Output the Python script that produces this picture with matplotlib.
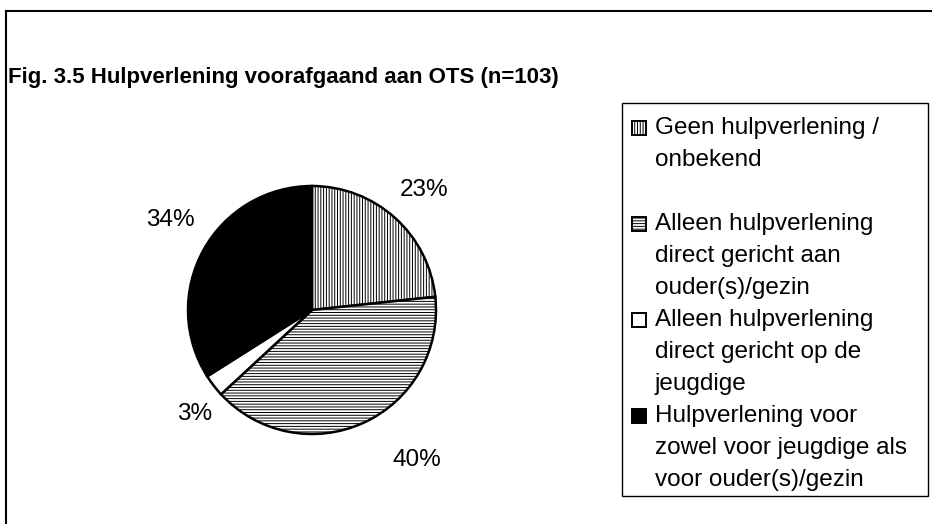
import matplotlib.pyplot as plt
from matplotlib.patches import Rectangle
from matplotlib.lines import Line2D

# ------------------------------------------------------------
# data (n=103)
categories = ["Geen hulpverlening /\nonbekend\n",
              "Alleen hulpverlening\ndirect gericht aan\nouder(s)/gezin",
              "Alleen hulpverlening\ndirect gericht op de\njeugdige",
              "Hulpverlening voor\nzowel voor jeugdige als\nvoor ouder(s)/gezin"]
counts = [24, 41, 3, 35]
title = "Fig. 3.5 Hulpverlening voorafgaand aan OTS (n=103)"

# styling per slice
hatches = ['||||||', '------', '', '']
facecolors = ['white', 'white', 'white', 'black']
# small nudges (pixels) so the % labels sit where the original put them
label_nudge = [(4, 0), (38, -3), (10, -6), (0, 12)]

plt.rcParams['font.family'] = ['Liberation Sans', 'DejaVu Sans']
plt.rcParams['hatch.linewidth'] = 0.7

W, H = 932, 524
fig = plt.figure(figsize=(W / 100, H / 100), dpi=100)


def fx(px):
    return px / W


def fy(py):
    return 1 - py / H


# outer frame (only top and left edges fall inside the picture)
fig.add_artist(Line2D([fx(6), 1.0], [fy(11), fy(11)], color='black', lw=1.5))
fig.add_artist(Line2D([fx(6), fx(6)], [fy(11), 0.0], color='black', lw=1.5))

fig.text(fx(8), fy(78), title, fontsize=16, fontweight='bold', va='center', ha='left')

# ------------------------------------------------------------
# pie
cx, cy, r = 312, 310, 124
ax = fig.add_axes([fx(cx - r), fy(cy + r), 2 * r / W, 2 * r / H])
wedges, texts, autotexts = ax.pie(counts, startangle=90, counterclock=False,
                                  colors=facecolors,
                                  wedgeprops=dict(edgecolor='black', linewidth=1.8),
                                  autopct=lambda p: '%.0f%%' % p, pctdistance=1.3,
                                  textprops=dict(fontsize=17.5))
for w, h in zip(wedges, hatches):
    w.set_hatch(h)
for t, (dx, dy) in zip(autotexts, label_nudge):
    x, y = t.get_position()
    t.set_position((x + dx / r, y + dy / r))
ax.set_xlim(-1, 1)
ax.set_ylim(-1, 1)
ax.axis('off')

# ------------------------------------------------------------
# legend (drawn by hand so the icons line up with the first text line)
lx0, ly0, lx1, ly1 = 622, 103, 928, 496
fig.add_artist(Rectangle((fx(lx0), fy(ly1)), fx(lx1) - fx(lx0), fy(ly0) - fy(ly1),
                         transform=fig.transFigure, facecolor='white',
                         edgecolor='black', lw=1.0))
line_step = 32
row = 0
for lab, fc, h in zip(categories, facecolors, hatches):
    y = 128 + row * line_step
    fig.add_artist(Rectangle((fx(632), fy(y + 7)), 14 / W, 14 / H,
                             transform=fig.transFigure, facecolor=fc,
                             edgecolor='black', lw=1.4, hatch=h))
    lines = lab.split('\n')
    for i, t in enumerate(lines):
        fig.text(fx(655), fy(y + i * line_step), t, fontsize=17.5,
                 va='center', ha='left')
    row += len(lines)

fig.savefig('out.png', dpi=100)
